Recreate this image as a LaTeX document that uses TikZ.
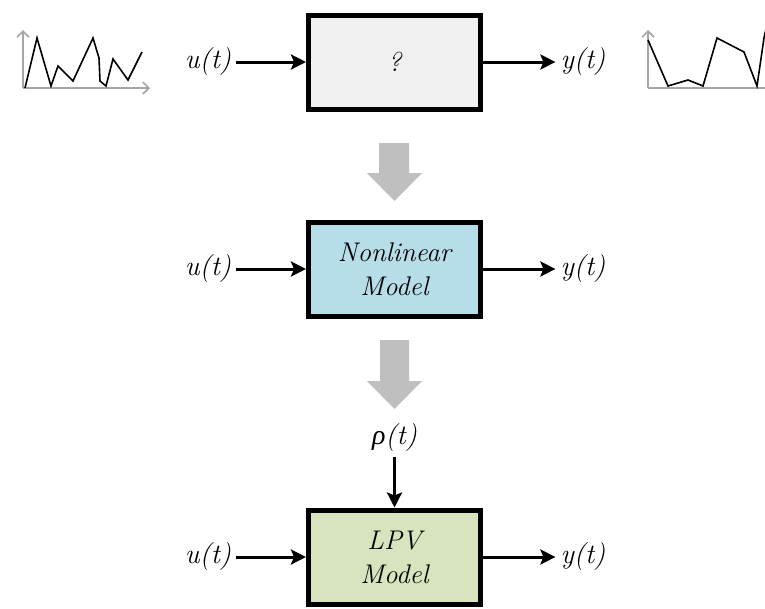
\documentclass[tikz,border=0pt]{standalone}
\usepackage{fontspec}
\newfontfamily\greekfont{Liberation Serif}
\usetikzlibrary{arrows.meta}

\definecolor{boxgray}{HTML}{F0F0F0}
\definecolor{boxblue}{HTML}{B7DDE8}
\definecolor{boxgreen}{HTML}{D7E4BD}
\definecolor{bigarrow}{HTML}{BFBFBF}
\definecolor{axisgray}{HTML}{A6A6A6}

\tikzset{
  block/.style={draw=black, line width=5pt, minimum width=172pt, minimum height=94pt,
                align=center, font=\fontsize{27}{34}\selectfont\itshape, inner sep=0pt},
  sig/.style={font=\fontsize{28}{32}\selectfont\itshape, inner sep=5pt},
  flow/.style={line width=3pt, -{Stealth[length=15pt, width=15pt, inset=3pt]}},
  axis/.style={draw=axisgray, line width=1.6pt, -{Straight Barb[length=6pt, width=12pt, line width=1.6pt]}},
  trace/.style={draw=black, line width=1.6pt, line join=miter},
  stage/.style={fill=bigarrow}
}

\begin{document}
\begin{tikzpicture}[x=1pt, y=-1pt]
  \clip (0,0) rectangle (765,608);
  \fill[white] (0,0) rectangle (765,608);

  % blocks
  \node[block, fill=boxgray]  (b1) at (394.5,62)  {?};
  \node[block, fill=boxblue]  (b2) at (394.5,269) {Nonlinear\\Model};
  \node[block, fill=boxgreen] (b3) at (394.5,557) {LPV\\Model};

  % input / output signals
  \node[sig] (u1) at (208,62)  {u(t)};
  \node[sig] (y1) at (583,62)  {y(t)};
  \node[sig] (u2) at (208,269) {u(t)};
  \node[sig] (y2) at (583,269) {y(t)};
  \node[sig] (u3) at (208,557) {u(t)};
  \node[sig] (y3) at (583,557) {y(t)};
  \node[sig] (rho) at (394.5,438) {{\greekfont\itshape ρ}(t)};

  \draw[flow] (u1.east) -- (b1.west);
  \draw[flow] (b1.east) -- (y1.west);
  \draw[flow] (u2.east) -- (b2.west);
  \draw[flow] (b2.east) -- (y2.west);
  \draw[flow] (u3.east) -- (b3.west);
  \draw[flow] (b3.east) -- (y3.west);
  \draw[flow] (rho.south) -- (b3.north);

  % grey stage arrows between the blocks
  \fill[stage] (379,143) -- (409,143) -- (409,173) -- (422,173) -- (394.5,201)
               -- (367,173) -- (379,173) -- cycle;
  \fill[stage] (380,340) -- (409,340) -- (409,381) -- (422,381) -- (394.5,409)
               -- (367,381) -- (380,381) -- cycle;

  % input signal sketch
  \draw[axis] (23,88) -- (23,30);
  \draw[axis] (23,88) -- (150,88);
  \draw[trace] (25,88) -- (37,38) -- (51,86) -- (58,66) -- (73,81) -- (93,38)
               -- (99,58) -- (100,81) -- (106,86) -- (113,59) -- (128,80) -- (142,52);

  % output signal sketch
  \draw[axis] (648,88) -- (648,30);
  \draw[axis] (648,88) -- (774,88);
  \draw[trace] (648,40) -- (668,86) -- (688,80) -- (703,86) -- (717,38)
               -- (744,52) -- (757,86) -- (764,38) -- (768,20);
\end{tikzpicture}
\end{document}
